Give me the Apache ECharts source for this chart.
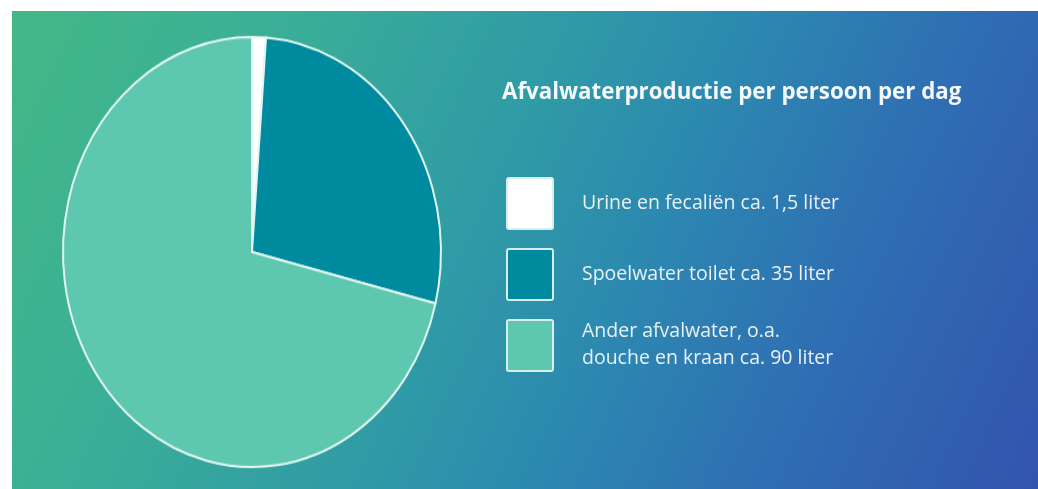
<!DOCTYPE html>
<html><head><meta charset="utf-8">
<script src="https://cdn.jsdelivr.net/npm/echarts@6/dist/echarts.min.js"></script>
<style>
html,body{margin:0;padding:0;background:#fff;overflow:hidden;}
#main{position:absolute;left:0;top:0;width:1038px;height:489px;}
#pie{position:absolute;left:0;top:0;width:1038px;height:489px;transform-origin:252px 252px;transform:scaleY(1.1376);}
</style>
</head><body><div id="main"></div><div id="pie"></div>
<script>
const titleText = 'Afvalwaterproductie per persoon per dag';
const categories = ['Urine en fecaliën ca. 1,5 liter', 'Spoelwater toilet ca. 35 liter', 'Ander afvalwater, o.a.\ndouche en kraan ca. 90 liter'];
const values = [1.5, 35, 90];
const colors = ['#ffffff', '#008a9f', '#5ec7b0'];

const main = echarts.init(document.getElementById('main'), null, {renderer: 'canvas'});
const legendEls = [];
categories.forEach((c, i) => {
  const top = 178 + i * 71;
  legendEls.push({
    type: 'rect', shape: {x: 507, y: top, width: 46, height: 51, r: 2},
    style: {fill: colors[i], stroke: '#d6efea', lineWidth: 2}
  });
  legendEls.push({
    type: 'text', x: 582, y: top + 25,
    style: {text: c, fill: '#e9f1f6', font: '19.5px "Open Sans"', verticalAlign: 'middle', lineHeight: 27}
  });
});
main.setOption({
  animation: false,
  title: {text: titleText, left: 502, top: 82, padding: 0,
    textStyle: {color: '#f4f8fa', fontSize: 22.3, fontWeight: 'bold', fontFamily: 'Open Sans'}},
  graphic: [{
    type: 'rect', z: -10, shape: {x: 12, y: 11, width: 1026, height: 478},
    style: {fill: new echarts.graphic.LinearGradient(0, 0, 1, 1, [
      {offset: 0, color: '#42b886'}, {offset: 0.2, color: '#3cb096'},
      {offset: 0.45, color: '#2f9ba6'}, {offset: 0.6, color: '#2c88b0'},
      {offset: 0.78, color: '#2f6db3'}, {offset: 1, color: '#3354ae'}])}
  }].concat(legendEls)
});

const pie = echarts.init(document.getElementById('pie'), null, {renderer: 'canvas'});
pie.setOption({
  animation: false,
  backgroundColor: 'transparent',
  series: [{
    type: 'pie', center: [252, 252], radius: 189, startAngle: 90, clockwise: true,
    label: {show: false}, labelLine: {show: false}, emphasis: {disabled: true},
    itemStyle: {borderColor: '#e2f6f1', borderWidth: 2},
    data: categories.map((c, i) => ({name: c, value: values[i], itemStyle: {color: colors[i]}}))
  }]
});
</script>
</body></html>
